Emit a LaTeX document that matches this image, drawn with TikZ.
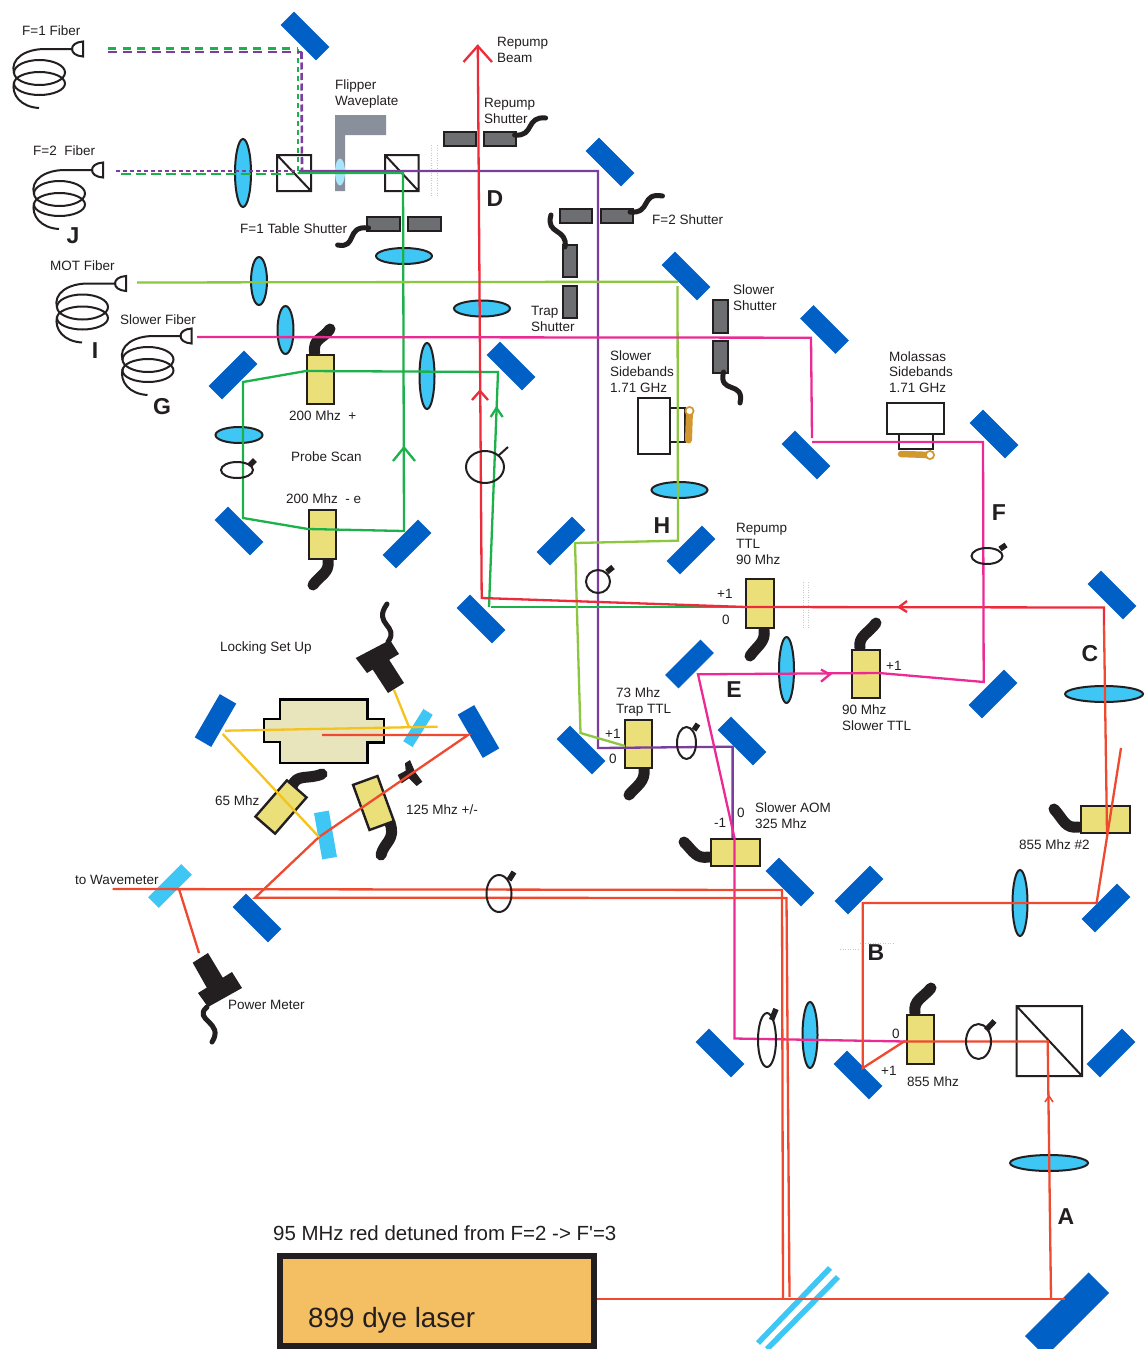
\documentclass[tikz,border=0pt]{standalone}
\usepackage{fontspec}
\setmainfont{Liberation Sans}
\newfontfamily\opdetfont{Liberation Sans}
\definecolor{mirblue}{HTML}{0060C5}
\definecolor{lensblue}{HTML}{3EC6F4}
\definecolor{aomyellow}{HTML}{EBDF7A}
\definecolor{inkc}{HTML}{231F20}
\definecolor{shutgray}{HTML}{6D6E71}
\definecolor{flipgray}{HTML}{8A8F9C}
\definecolor{gold}{HTML}{D1982F}
\definecolor{cellc}{HTML}{E8E4BC}
\definecolor{laserc}{HTML}{F4BE63}
\definecolor{bgreen}{HTML}{1DB14B}
\definecolor{bpurple}{HTML}{7A3F9D}
\definecolor{blime}{HTML}{8DC63F}
\definecolor{bmag}{HTML}{EC2A94}
\definecolor{bcrim}{HTML}{EC2B3B}
\definecolor{bred}{HTML}{EF4A30}
\definecolor{byel}{HTML}{F6C21C}
\tikzset{
  mirrorp/.style={fill=mirblue},
  platep/.style={fill=lensblue},
  lensp/.style={fill=lensblue,draw=inkc,line width=2pt},
  wavep/.style={draw=inkc,line width=2pt},
  tabp/.style={draw=inkc,line width=5.5pt},
  aomp/.style={fill=aomyellow,draw=inkc,line width=2.4pt},
  shutp/.style={fill=shutgray,draw=inkc,line width=2pt},
  cubep/.style={draw=inkc,line width=2pt},
  rfp/.style={draw=inkc,line width=11pt,line cap=round,line join=round},
  cabp/.style={draw=inkc,line width=5pt,line cap=round,line join=round},
  fibp/.style={draw=inkc,line width=2pt},
  beamp/.style={line width=2.3pt,line join=miter},
  lblp/.style={anchor=base west,inner sep=0pt,text=inkc,font=\fontsize{13.5}{16}\selectfont},
  letp/.style={anchor=center,inner sep=0pt,text=inkc,font=\fontsize{23}{26}\selectfont\bfseries},
  faintp/.style={draw=black!22,line width=0.5pt,dotted}
}
\newcount\oplblc
\newcommand{\opmir}[3]{\fill[mirrorp,shift={(#1,#2)},rotate=#3] (-25,-9.5) rectangle (25,9.5);}
\newcommand{\opplate}[5]{\fill[platep,shift={(#1,#2)},rotate=#3] (-#4,-#5) rectangle (#4,#5);}
\newcommand{\oplens}[4]{\path[lensp] (#1,#2) ellipse [x radius=#3,y radius=#4];}
\newcommand{\opwave}[8]{\draw[wavep] (#1,#2) ellipse [x radius=#3,y radius=#4];\draw[tabp] (#5,#6) -- (#7,#8);}
\newcommand{\opaom}[4]{\path[aomp] (#1,#2) rectangle (#3,#4);}
\newcommand{\opaomr}[5]{\path[aomp,shift={(#1,#2)},rotate=#3] (-#4,-#5) rectangle (#4,#5);}
\newcommand{\opshut}[4]{\path[shutp] (#1,#2) rectangle (#3,#4);}
\newcommand{\opcube}[4]{\draw[cubep] (#1,#2) rectangle (#3,#4) (#1,#2) -- (#3,#4);}
\newcommand{\opfiber}[2]{\begin{scope}[shift={(#1,#2)}]
  \draw[fibp] (0,-7.5) -- (0,7.5) .. controls (-7,7) and (-11,4) .. (-11,0) .. controls (-11,-4) and (-7,-7) .. (0,-7.5) -- cycle;
  \draw[fibp] (-10,0) -- (-38,0) .. controls (-58,0) and (-73,10) .. (-69,24);
  \draw[fibp] (-43.5,23.5) ellipse [x radius=25.5,y radius=12.5];
  \draw[fibp] (-43.5,34.5) ellipse [x radius=25.5,y radius=11.5];
  \draw[fibp] (-69,33) .. controls (-72,46) and (-62,58) .. (-44,59);
\end{scope}}
\newcommand{\oplbl}[3]{\global\advance\oplblc by 1\relax\node[lblp] (L\the\oplblc) at (#1,#2+5.6) {#3};}
\newcommand{\oplet}[3]{\node[letp] (let#3) at (#1,#2+0.8) {#3};}
\begin{document}
\begin{tikzpicture}[x=1pt,y=-1pt]
\useasboundingbox (0,0) rectangle (1144,1349);
\fill[white] (0,0) rectangle (1144,1349);
% faint marks
\draw[faintp] (431,145) -- (431,197) (437,145) -- (437,197);
\draw[faintp] (803,582) -- (803,628) (808,582) -- (808,628);
\draw[faintp] (840,949) -- (860,949) (860,943) -- (893,943);
% mirrors
\opmir{305}{36}{-45}\opmir{610}{162}{-45}\opmir{686}{276}{-45}\opmir{824.5}{329.5}{-45}
\opmir{511}{366}{-45}\opmir{806}{455}{-45}\opmir{994}{434}{-45}\opmir{1112}{595}{-45}
\opmir{239}{531}{-45}\opmir{481}{619}{-45}\opmir{581}{750}{-45}\opmir{742}{741}{-45}
\opmir{257}{918}{-45}\opmir{790}{882}{-45}\opmir{720}{1053}{-45}\opmir{858}{1075}{-45}
\opmir{233}{375}{45}\opmir{561}{541}{45}\opmir{691}{550}{45}\opmir{407}{544}{45}
\opmir{689.5}{664}{45}\opmir{993}{694}{45}\opmir{859}{890}{45}\opmir{1106}{908}{45}
\opmir{1111}{1053}{45}
\opmir{215.5}{720.5}{60}\opmir{478.5}{731.5}{-60}
\fill[mirrorp,shift={(1067,1314.5)},rotate=45] (-45,-14.5) rectangle (45,14.5);
% plates
\opplate{170}{886}{45}{23.5}{7.5}
\opplate{325.5}{835}{-80}{23.5}{7.5}
\opplate{418}{728}{58}{19}{5.5}
\draw[lensblue,line width=5.5pt] (830,1268) -- (758,1343);
\draw[lensblue,line width=5.5pt] (838,1277) -- (767,1349);
% flipper
\fill[flipgray] (335,115) -- (386,115) -- (386,135) -- (345,135) -- (345,191) -- (335,191) -- cycle;
\fill[lensblue!45] (340,172) ellipse [x radius=5,y radius=13.5];
% lenses
\oplens{243}{173}{8}{34}\oplens{259}{281}{8}{24}\oplens{285.5}{330}{8}{24}\oplens{427}{376}{7.5}{33}
\oplens{786.5}{670}{7.5}{33}\oplens{1020}{903}{7.5}{33}\oplens{810}{1035}{7.5}{33}
\oplens{404}{256}{28}{8}\oplens{482}{308.5}{28}{8}\oplens{239}{435}{23.5}{8}\oplens{679.5}{490}{28}{8}
\oplens{1104}{694}{39}{8}\oplens{1049}{1163}{39}{8}
% cubes
\opcube{277}{155}{311}{191}\opcube{385}{155}{418.5}{191}\opcube{1016.5}{1006}{1082}{1076}
% shutters
\opshut{443.5}{132}{476}{146}\opshut{484}{132}{516}{146}\opshut{367}{217}{399.5}{231}\opshut{407.5}{217}{440.5}{231}
\opshut{560}{209}{592}{223}\opshut{600.5}{209}{633}{223}\opshut{562.5}{245}{577}{277}\opshut{562.5}{286}{577}{318}
\opshut{712.5}{300}{727.5}{333}\opshut{712.5}{341}{727.5}{373}
% shutter cables
\draw[cabp] (514.6,135) .. controls (535,137) and (525,116) .. (545.6,118);
\draw[cabp] (630,212) .. controls (652,214) and (640,192) .. (662.5,196);
\draw[cabp] (368.6,228) .. controls (345,225) and (358,249) .. (337.6,245);
\draw[cabp] (565,247) .. controls (568,228) and (545,235) .. (551,215);
\draw[cabp] (723.5,372) .. controls (718,395) and (745,380) .. (740,403);
% AOM rf cables
\draw[rfp] (314.6,353) .. controls (313,338) and (322,340) .. (330,329);
\draw[rfp] (328,560) .. controls (330,573) and (320,575) .. (313,585);
\draw[rfp] (764,630) .. controls (766,642) and (757,646) .. (750,656);
\draw[rfp] (860,648) .. controls (858,636) and (868,634) .. (876,623);
\draw[rfp] (644,768) .. controls (646,782) and (636,786) .. (629,795);
\draw[rfp] (709,857) .. controls (696,859) and (694,852) .. (684,842);
\draw[rfp] (1079,827) .. controls (1065,829) and (1064,820) .. (1054,809);
\draw[rfp] (915,1013) .. controls (913,1000) and (923,998) .. (931,988);
\draw[rfp] (292,787) .. controls (296,773) and (308,780) .. (322,774);
\draw[rfp] (390,823) .. controls (396,840) and (384,842) .. (381,855);
% AOMs
\opaom{307}{355}{334}{404}\opaom{309}{510}{336}{559}\opaom{746}{579}{774}{628}\opaom{852}{650}{880}{698}
\opaom{625}{720}{652}{768}\opaom{711}{839}{760}{866}\opaom{1081}{806}{1130}{833}\opaom{907}{1015}{934}{1064}
\opaomr{281}{807}{49}{24}{13}
\opaomr{373.5}{803}{-70}{24}{13}
% sideband modulators
\draw[inkc,line width=2pt] (637.7,398) rectangle (669.5,454);
\draw[inkc,line width=2pt] (669.5,408) rectangle (685,442);
\draw[gold,line width=7pt,line cap=round] (689.5,411) -- (688.5,440);
\fill[gold] (689.5,411) circle (5);
\fill[white] (689.5,411) circle (3);
\draw[inkc,line width=2pt] (887,403) rectangle (943.5,434);
\draw[inkc,line width=2pt] (899,434) rectangle (933,449);
\draw[gold,line width=6.5pt,line cap=round] (901,454) -- (930,455);
\fill[gold] (930,455) circle (5);
\fill[white] (930,455) circle (3);
% locking cell
\path[fill=cellc,draw=black,line width=2.4pt] (280,699.5) -- (367.3,699.5) -- (367.3,719) -- (384,719) -- (384,742.3) -- (367.3,742.3) -- (367.3,763) -- (280,763) -- (280,742) -- (264,742) -- (264,719) -- (280,719) -- cycle;
% detectors
\fill[inkc] (355.7,658) -- (390,640) -- (399,654) -- (367,673) -- cycle;
\fill[inkc] (371.7,668) -- (388,658) -- (404,683) -- (388,693) -- cycle;
\draw[cabp] (388,642) .. controls (400,625) and (372,625) .. (387,604);
\fill[inkc] (192.7,962.7) -- (208,953) -- (223,978) -- (207,988) -- cycle;
\fill[inkc] (198,993) -- (232,972) -- (242,988) -- (208,1007) -- cycle;
\draw[cabp] (207,1007) .. controls (192,1020) and (225,1022) .. (212,1042);
\fill[inkc] (405,763.3) -- (410,760) -- (415,771.7) -- (422.3,781.7) -- (416.7,786) -- (409,778.3) -- (401.7,783.3) -- (397.7,775) -- (405.7,770.7) -- cycle;
% fibers
\opfiber{83}{49}\opfiber{103}{170}\opfiber{126}{283.5}\opfiber{191.5}{336}
% beams
\draw[beamp,bgreen,dash pattern=on 8pt off 6.5pt] (108,48.5) -- (298,48.5);
\draw[beamp,bgreen,dash pattern=on 5pt off 4pt] (298,48.5) -- (298,172);
\draw[beamp,bpurple,line width=2.6pt,dash pattern=on 9pt off 5.5pt] (108,52) -- (301.5,52);
\draw[beamp,bpurple,line width=2.6pt,dash pattern=on 7pt off 3.5pt] (301.5,52) -- (302,171);
\draw[beamp,bpurple,dash pattern=on 4pt off 3pt] (116,171) -- (297,171);
\draw[beamp,bgreen,dash pattern=on 10pt off 5pt] (120.5,174) -- (294,174);
\draw[beamp,bpurple] (299,171) -- (598,171) -- (598,748) -- (732.6,746.7) -- (732.6,838);
\draw[beamp,bgreen] (297.5,173) -- (403,173) -- (404,531) -- (308,529) -- (243,518) -- (243,382) -- (306,371) -- (498,372) -- (489,607);
\draw[beamp,bgreen] (491,607) -- (746,607);
\draw[beamp,bgreen] (393,461) -- (404,447.5) -- (415,461);
\draw[beamp,bgreen] (490.7,417) -- (496.5,408) -- (502.7,417);
\draw[beamp,blime] (137,282.5) -- (678,281.7);
\draw[beamp,blime] (677.5,286) -- (678,540.7) -- (575,543) -- (580.5,733) -- (625,746);
\draw[beamp,bcrim] (477.8,45) -- (481.7,598) -- (746,607) -- (1104,607.5) -- (1104,625);
\draw[beamp,bcrim] (463.5,62) -- (477.7,46) -- (492,62);
\draw[beamp,bcrim] (472,400) -- (480,391) -- (488,400);
\draw[beamp,bcrim] (907,601) -- (899,607) -- (907,612);
\draw[beamp,bmag] (197,337) -- (811,337.7) -- (812,438);
\draw[beamp,bmag] (812,442) -- (983,442) -- (983.7,682) -- (879,673) -- (698,674.3) -- (734.5,838) -- (734.5,1038.5) -- (906,1041.5);
\draw[beamp,bmag] (821,669.5) -- (829.7,674.5) -- (821,681.7);
\draw[beamp,bred] (1104,625) -- (1107,833);
\draw[beamp,bred] (1121,748) -- (1096.6,903) -- (862.8,903) -- (862.8,1068) -- (904,1041.5) -- (1047.7,1041.5) -- (1051,1299);
\draw[beamp,bred,line width=1.6pt] (1045,1102) -- (1049,1096) -- (1053,1102);
\draw[beamp,bred] (597,1299) -- (1065,1299);
\draw[beamp,bred] (783,1299) -- (782,890) -- (112.7,889);
\draw[beamp,bred] (789.5,1297) -- (786.5,898) -- (255,897.7) -- (319,837) -- (468,735) -- (322,735);
\draw[beamp,bred] (179,889) -- (199,953);
\draw[beamp,byel] (394,690) -- (409,727);
\draw[beamp,byel] (437.7,726.7) -- (225,730.7);
\draw[beamp,byel] (222.7,734) -- (319,837);
% waveplates
\opwave{499}{893.5}{12.5}{18.5}{509}{880}{514}{872}
\draw[wavep] (485,467) ellipse [x radius=19,y radius=16];
\draw[inkc,line width=2pt] (498,456) -- (508,447);
\opwave{237}{470}{16}{8}{250}{465}{255}{460}
\opwave{598}{581.5}{12}{11.5}{607}{572}{613}{567}
\opwave{987}{556}{15.5}{8}{1000}{549}{1006}{545}
\opwave{686.5}{743}{9.5}{16}{694}{730}{698}{724}
\opwave{767}{1040}{9}{27}{771.5}{1020}{776}{1009}
\opwave{978.5}{1041.5}{12.5}{17.5}{986}{1030}{994.5}{1021}
% laser
\path[fill=laserc,draw=inkc,line width=6pt] (280,1256) rectangle (594,1346);
\node[anchor=base west,inner sep=0pt,text=inkc,font=\fontsize{27.8}{30}\selectfont] (laserlbl) at (308,1327) {899 dye laser};
\node[anchor=base west,inner sep=0pt,text=inkc,font=\opdetfont\fontsize{20.45}{22}\selectfont] (detlbl) at (273,1240) {95 MHz red detuned from F=2 -> F'=3};
% labels
\oplbl{22}{30}{F=1 Fiber}
\oplbl{33}{150}{F=2\ \ Fiber}
\oplbl{50}{265}{MOT Fiber}
\oplbl{120}{319}{Slower Fiber}
\oplbl{497}{41}{Repump}\oplbl{497}{57}{Beam}
\oplbl{335}{84}{Flipper}\oplbl{335}{100}{Waveplate}
\oplbl{484}{102}{Repump}\oplbl{484}{118}{Shutter}
\oplbl{240}{228}{F=1 Table Shutter}
\oplbl{531}{310}{Trap}\oplbl{531}{326}{Shutter}
\oplbl{652}{219}{F=2 Shutter}
\oplbl{733}{289}{Slower}\oplbl{733}{305}{Shutter}
\oplbl{610}{355}{Slower}\oplbl{610}{371}{Sidebands}\oplbl{610}{387}{1.71 GHz}
\oplbl{889}{356}{Molassas}\oplbl{889}{371}{Sidebands}\oplbl{889}{387}{1.71 GHz}
\oplbl{289}{415}{200 Mhz\ \ +}
\oplbl{291}{456}{Probe Scan}
\oplbl{286}{498}{200 Mhz\ \ - e}
\oplbl{736}{527}{Repump}\oplbl{736}{543}{TTL}\oplbl{736}{559}{90 Mhz}
\oplbl{717}{593}{+1}\oplbl{722}{619}{0}
\oplbl{220}{646}{Locking Set Up}
\oplbl{886}{665}{+1}
\oplbl{842}{709}{90 Mhz}\oplbl{842}{725}{Slower TTL}
\oplbl{616}{692}{73 Mhz}\oplbl{616}{708}{Trap TTL}
\oplbl{605}{733}{+1}\oplbl{609}{758}{0}
\oplbl{215}{800}{65 Mhz}
\oplbl{406}{809}{125 Mhz +/-}
\oplbl{755}{807}{Slower AOM}\oplbl{755}{823}{325 Mhz}
\oplbl{714}{822}{-1}\oplbl{737}{812}{0}
\oplbl{1019}{844}{855 Mhz \#2}
\oplbl{75}{879}{to Wavemeter}
\oplbl{228}{1004}{Power Meter}
\oplbl{892}{1033}{0}\oplbl{881}{1070}{+1}
\oplbl{907}{1081}{855 Mhz}
% letters
\oplet{73}{235}{J}\oplet{95}{350}{I}\oplet{162}{406}{G}\oplet{495}{198}{D}\oplet{662}{525}{H}
\oplet{999}{512}{F}\oplet{1090}{653}{C}\oplet{734}{689}{E}\oplet{876}{952}{B}\oplet{1066}{1216}{A}
\end{tikzpicture}
\end{document}
